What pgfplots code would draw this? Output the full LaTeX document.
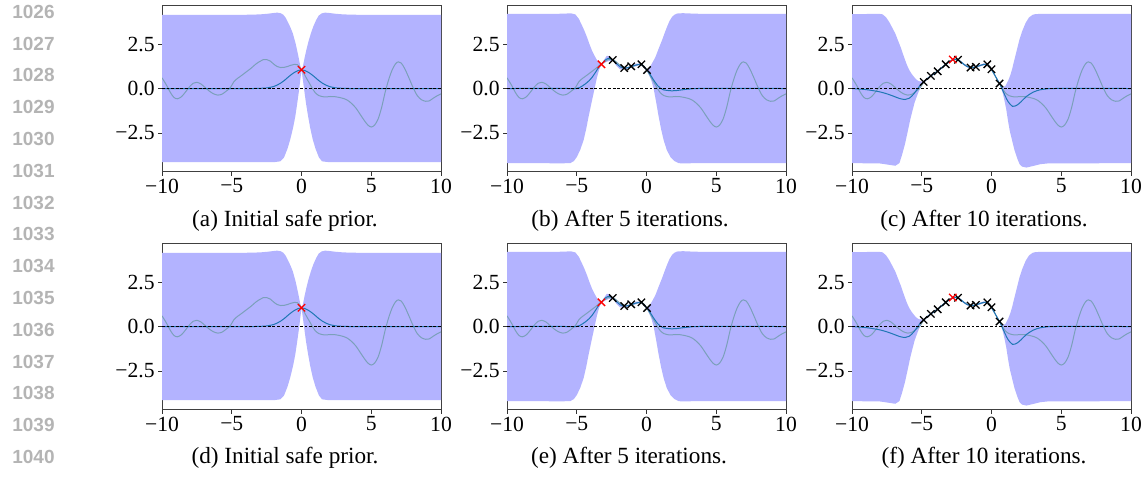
\documentclass[border=0pt]{standalone}
\usepackage{fontspec}
\setmainfont{Liberation Serif}
\newfontfamily\linenofont{Liberation Sans}
\usepackage{pgfplots}
\usepackage{pgfplotstable}
\pgfplotsset{compat=1.18}

\definecolor{Band}{RGB}{179,179,255}
\definecolor{TrueFn}{RGB}{100,152,158}
\definecolor{MeanFn}{HTML}{1F77B4}
\definecolor{LineNo}{RGB}{180,180,180}

% objective (shared by all panels)
\pgfplotstableread{
x y
-10 0.60
-9.7 0.22
-9.4 -0.22
-9.15 -0.50
-8.9 -0.58
-8.6 -0.46
-8.3 -0.18
-8.0 0.12
-7.75 0.30
-7.5 0.35
-7.2 0.25
-6.9 0.05
-6.6 -0.15
-6.3 -0.30
-6.0 -0.37
-5.7 -0.32
-5.4 -0.15
-5.1 0.05
-4.85 0.38
-4.6 0.56
-4.32 0.72
-4.1 0.85
-3.9 0.97
-3.6 1.15
-3.3 1.36
-3.0 1.52
-2.75 1.62
-2.5 1.63
-2.25 1.55
-2.0 1.38
-1.75 1.24
-1.5 1.18
-1.25 1.19
-1.0 1.24
-0.75 1.31
-0.5 1.36
-0.3 1.34
-0.15 1.24
0 1.07
0.2 0.80
0.4 0.52
0.58 0.28
0.8 -0.02
1.0 -0.25
1.25 -0.40
1.5 -0.46
1.8 -0.47
2.1 -0.45
2.4 -0.46
2.7 -0.50
3.0 -0.56
3.3 -0.66
3.6 -0.85
3.9 -1.10
4.2 -1.45
4.5 -1.80
4.75 -2.05
5.0 -2.17
5.25 -2.05
5.5 -1.70
5.75 -1.05
6.0 -0.20
6.25 0.50
6.5 1.05
6.75 1.40
6.95 1.50
7.15 1.43
7.4 1.12
7.7 0.60
8.0 0.05
8.3 -0.40
8.6 -0.63
8.9 -0.72
9.15 -0.70
9.4 -0.57
9.7 -0.42
10 -0.30
}\truefn

% ---- initial safe prior
\pgfplotstableread{
x y
-10 0
-3.5 0
-3 0.01
-2.5 0.03
-2.0 0.11
-1.75 0.19
-1.5 0.30
-1.25 0.44
-1.0 0.61
-0.75 0.77
-0.5 0.91
-0.25 1.01
0 1.05
0.25 1.01
0.5 0.91
0.75 0.77
1.0 0.61
1.25 0.44
1.5 0.30
1.75 0.19
2.0 0.11
2.5 0.03
3 0.01
3.5 0
10 0
}\meanA

\pgfplotstableread{
x y
-10 4.15
-4 4.15
-3 4.17
-2.4 4.21
-2.0 4.25
-1.75 4.27
-1.5 4.24
-1.3 4.15
-1.15 4.0
-1.0 3.78
-0.8 3.45
-0.63 3.12
-0.45 2.62
-0.32 2.18
-0.2 1.72
-0.08 1.25
0 1.05
0.1 1.25
0.22 1.72
0.35 2.18
0.5 2.65
0.68 3.12
0.85 3.5
1.05 3.85
1.23 4.1
1.45 4.23
1.7 4.27
2.0 4.25
2.4 4.21
3 4.17
4 4.15
10 4.15
10 -4.15
2 -4.15
1.47 -4.1
1.25 -3.88
1.0 -3.38
0.8 -2.85
0.62 -2.2
0.47 -1.55
0.32 -0.82
0.18 0.0
0.08 0.6
0 1.05
-0.07 0.6
-0.16 0.0
-0.3 -0.8
-0.44 -1.55
-0.6 -2.2
-0.8 -2.85
-1.0 -3.38
-1.25 -3.88
-1.52 -4.1
-2 -4.15
-10 -4.15
}\bandA

\pgfplotstableread{
x y
0 1.06
}\bestA

% ---- after 5 iterations
\pgfplotstableread{
x y
-10 0
-5.5 0
-5.1 -0.01
-4.8 0.05
-4.4 0.25
-4.1 0.45
-3.9 0.63
-3.6 0.98
-3.43 1.19
-3.24 1.35
-3.0 1.58
-2.75 1.69
-2.55 1.67
-2.4 1.6
-2.15 1.4
-1.85 1.2
-1.6 1.14
-1.3 1.18
-1.1 1.24
-0.75 1.32
-0.5 1.36
-0.36 1.35
-0.2 1.24
0.04 1.02
0.27 0.78
0.45 0.55
0.63 0.34
0.8 0.16
0.99 0.02
1.2 -0.07
1.5 -0.11
1.8 -0.13
2.1 -0.12
2.5 -0.08
2.8 -0.05
3.2 -0.02
3.6 0
10 0
}\meanB

\pgfplotstableread{
x y
-10 4.2
-6.5 4.2
-5.8 4.22
-5.4 4.23
-5.1 4.17
-4.85 3.92
-4.63 3.56
-4.45 3.25
-4.27 2.9
-4.1 2.52
-3.91 2.14
-3.72 1.84
-3.55 1.6
-3.4 1.43
-3.24 1.37
-3.05 1.6
-2.85 1.84
-2.65 1.82
-2.4 1.63
-2.15 1.5
-1.9 1.32
-1.6 1.17
-1.3 1.22
-1.1 1.27
-0.75 1.4
-0.5 1.4
-0.36 1.37
-0.2 1.28
0.04 1.05
0.15 1.1
0.35 1.35
0.63 1.75
0.85 2.2
1.11 2.71
1.3 3.12
1.47 3.47
1.65 3.8
1.83 4.03
2.0 4.15
2.19 4.22
2.6 4.24
3.2 4.22
4 4.2
10 4.2
10 -4.2
3.5 -4.2
2.6 -4.22
2.3 -4.2
2.0 -4.08
1.71 -3.85
1.45 -3.45
1.23 -2.91
1.05 -2.3
0.87 -1.58
0.7 -0.8
0.51 0.0
0.35 0.45
0.2 0.72
0.04 0.99
-0.2 1.19
-0.36 1.32
-0.5 1.32
-0.75 1.25
-1.1 1.21
-1.3 1.12
-1.6 1.1
-1.9 1.07
-2.15 1.27
-2.4 1.56
-2.65 1.56
-2.85 1.5
-3.05 1.42
-3.24 1.34
-3.4 1.05
-3.55 0.62
-3.72 0.0
-3.9 -0.65
-4.15 -1.58
-4.33 -2.3
-4.51 -2.91
-4.75 -3.45
-4.99 -3.85
-5.2 -4.08
-5.46 -4.2
-6 -4.21
-10 -4.2
}\bandB

\pgfplotstableread{
x y
-2.42 1.60
-1.60 1.15
-1.10 1.25
-0.36 1.36
0.04 1.04
}\obsB

\pgfplotstableread{
x y
-3.23 1.36
}\bestB

% ---- after 10 iterations
\pgfplotstableread{
x y
-10 0.0
-9.5 -0.03
-9 -0.06
-8.5 -0.12
-8 -0.19
-7.5 -0.3
-7 -0.44
-6.6 -0.56
-6.2 -0.62
-5.9 -0.55
-5.6 -0.33
-5.3 -0.02
-5.05 0.24
-4.86 0.37
-4.6 0.55
-4.35 0.71
-4.1 0.85
-3.86 0.97
-3.6 1.15
-3.28 1.36
-3.0 1.52
-2.78 1.62
-2.6 1.64
-2.4 1.61
-2.2 1.5
-2.0 1.37
-1.75 1.24
-1.5 1.18
-1.3 1.19
-1.12 1.22
-0.8 1.3
-0.55 1.36
-0.3 1.35
-0.15 1.24
0 1.07
0.2 0.8
0.4 0.52
0.58 0.28
0.8 -0.1
1.0 -0.45
1.2 -0.75
1.5 -1.0
1.8 -0.95
2.1 -0.76
2.5 -0.45
3.0 -0.2
3.5 -0.07
4 -0.02
4.5 0
10 0
}\meanC

\pgfplotstableread{
x y
-10 4.18
-8.5 4.2
-8.0 4.2
-7.8 4.17
-7.55 4.0
-7.3 3.7
-7.1 3.4
-6.9 3.1
-6.7 2.7
-6.5 2.3
-6.35 1.95
-6.2 1.62
-6.05 1.3
-5.9 1.05
-5.75 0.85
-5.6 0.7
-5.45 0.55
-5.3 0.45
-5.15 0.4
-5.0 0.4
-4.86 0.4
-4.6 0.6
-4.35 0.75
-4.1 0.9
-3.86 1.0
-3.6 1.2
-3.28 1.39
-3.0 1.56
-2.78 1.65
-2.6 1.67
-2.4 1.64
-2.2 1.55
-2.0 1.42
-1.75 1.29
-1.5 1.21
-1.3 1.22
-1.12 1.26
-0.8 1.35
-0.55 1.41
-0.3 1.38
-0.15 1.27
0 1.1
0.2 0.85
0.4 0.56
0.58 0.31
0.7 0.15
0.85 0.08
1.0 0.15
1.2 0.45
1.35 0.75
1.48 1.1
1.65 1.65
1.85 2.27
2.0 2.75
2.2 3.23
2.45 3.7
2.69 4.0
2.95 4.15
3.17 4.19
3.6 4.2
10 4.2
10 -4.2
4 -4.22
3.5 -4.26
3.0 -4.36
2.5 -4.45
2.2 -4.4
2.02 -4.27
1.85 -3.95
1.66 -3.5
1.5 -3.0
1.3 -2.35
1.18 -1.8
1.06 -1.19
0.95 -0.75
0.82 -0.3
0.7 0.0
0.58 0.25
0.4 0.48
0.2 0.75
0 1.04
-0.15 1.21
-0.3 1.32
-0.55 1.31
-0.8 1.25
-1.12 1.19
-1.3 1.16
-1.5 1.15
-1.75 1.19
-2.0 1.32
-2.2 1.45
-2.4 1.58
-2.6 1.61
-2.78 1.59
-3.0 1.48
-3.28 1.33
-3.6 1.1
-3.86 0.94
-4.1 0.8
-4.35 0.67
-4.6 0.5
-4.86 0.34
-5.0 0.18
-5.23 -0.19
-5.38 -0.5
-5.52 -0.81
-5.68 -1.3
-5.83 -1.77
-6.0 -2.4
-6.2 -3.12
-6.4 -3.7
-6.6 -4.2
-6.9 -4.35
-7.3 -4.3
-8 -4.22
-10 -4.2
}\bandC

\pgfplotstableread{
x y
-4.86 0.37
-4.35 0.71
-3.86 0.97
-3.28 1.36
-2.40 1.62
-1.50 1.18
-1.12 1.22
-0.30 1.36
0.00 1.08
0.58 0.28
}\obsC

\pgfplotstableread{
x y
-2.78 1.63
}\bestC

\pgfplotsset{
  gp/.style={
    anchor=south west,
    scale only axis,
    width=139.5pt,
    height=83.5pt,
    xmin=-10, xmax=10,
    ymin=-4.7, ymax=4.7,
    xtick={-10,-5,0,5,10},
    xticklabels={−10,−5,0,5,10},
    ytick={-2.5,0,2.5},
    yticklabels={−2.5,0.0,2.5},
    tick pos=left,
    tick align=outside,
    major tick length=2pt,
    every tick/.style={black!80, line width=0.4pt},
    axis line style={black!75, line width=0.5pt},
    ticklabel style={font=\fontsize{10.8}{12}\selectfont, text=black},
    xticklabel style={inner sep=1.2pt},
    yticklabel style={inner sep=1.5pt},
  },
  obs mark/.style={only marks, mark=x, mark size=2.6pt, mark options={line width=0.65pt}},
  zero line/.style={black, line width=0.4pt, dash pattern=on 1.4pt off 0.9pt},
}

% #1,#2 lower-left corner, #3 band, #4 mean, #5 best point, #6 other observations
\newcommand{\gppanel}[6]{%
  \begin{axis}[gp, at={(#1,#2)}]
    \addplot[fill=Band, draw=none] table {#3};
    \addplot[TrueFn, opacity=0.7, line width=0.5pt, smooth] table {\truefn};
    \addplot[MeanFn, line width=0.5pt, smooth] table {#4};
    \addplot[zero line] coordinates {(-10,0) (10,0)};
    #6
    \addplot[obs mark, red] table {#5};
  \end{axis}}

\begin{document}
\begin{tikzpicture}
\path[use as bounding box] (0,0) rectangle (573pt,238.5pt);

\foreach \k in {0,...,14}{
  \pgfmathtruncatemacro{\lnum}{1026+\k}
  \pgfmathsetmacro{\yy}{(477-11.7-31.8*\k)*0.5}
  \node[anchor=east, inner sep=0pt, text=LineNo,
        font=\linenofont\bfseries\fontsize{9.5}{11}\selectfont]
    at (27.5pt,\yy pt) {\lnum};
}

\gppanel{81pt}{152.5pt}{\bandA}{\meanA}{\bestA}{}
\gppanel{253.5pt}{152.5pt}{\bandB}{\meanB}{\bestB}{\addplot[obs mark, black] table {\obsB};}
\gppanel{426pt}{152.5pt}{\bandC}{\meanC}{\bestC}{\addplot[obs mark, black] table {\obsC};}

\gppanel{81pt}{33.5pt}{\bandA}{\meanA}{\bestA}{}
\gppanel{253.5pt}{33.5pt}{\bandB}{\meanB}{\bestB}{\addplot[obs mark, black] table {\obsB};}
\gppanel{426pt}{33.5pt}{\bandC}{\meanC}{\bestC}{\addplot[obs mark, black] table {\obsC};}

\begin{scope}[every node/.style={anchor=base, inner sep=0pt, font=\fontsize{11.6}{13}\selectfont}]
  \node at (142.5pt,125.2pt) {(a) Initial safe prior.};
  \node at (315pt,125.2pt) {(b) After 5 iterations.};
  \node at (492pt,125.2pt) {(c) After 10 iterations.};
  \node at (142.5pt,6.8pt) {(d) Initial safe prior.};
  \node at (314.5pt,6.8pt) {(e) After 5 iterations.};
  \node at (492pt,6.8pt) {(f) After 10 iterations.};
\end{scope}
\end{tikzpicture}
\end{document}
